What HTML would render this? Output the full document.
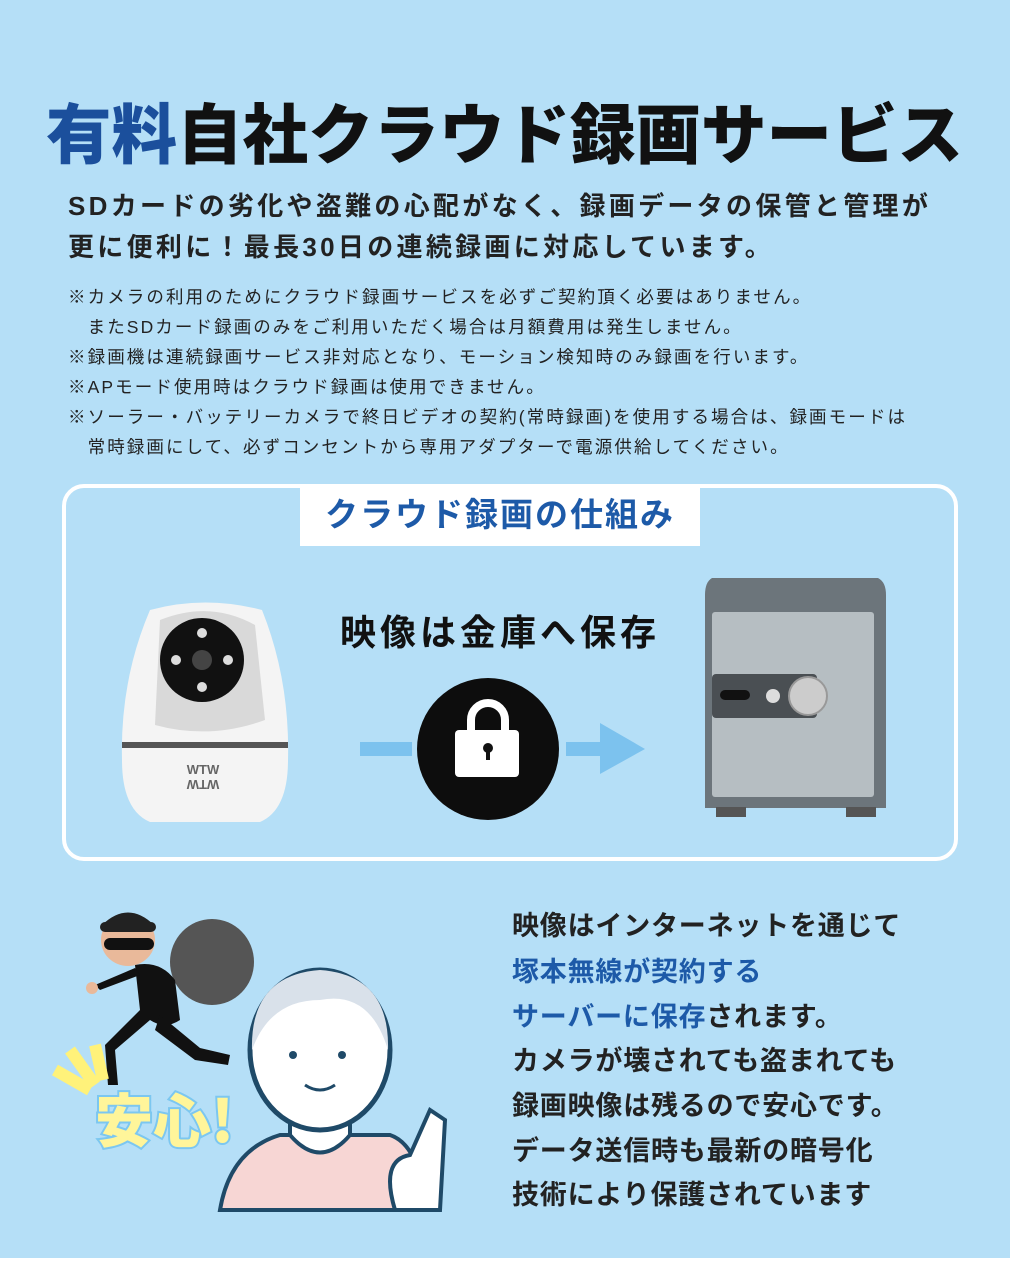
<!DOCTYPE html>
<html><head><meta charset="utf-8"><style>
*{margin:0;padding:0;box-sizing:border-box}
body{width:1010px;height:1266px;background:#fff;font-family:"Liberation Sans","Noto Sans CJK JP",sans-serif;position:relative;overflow:hidden}
.bg{position:absolute;left:0;top:0;width:1010px;height:1258px;background:#b5dff7}
.t{position:absolute;white-space:nowrap}
.title{left:46px;top:92px;font-size:65.5px;font-weight:900;letter-spacing:0;color:#111;line-height:88px}
.sub{left:68px;font-size:26px;font-weight:700;color:#222;letter-spacing:3.3px}
.note{left:68px;font-size:17.5px;color:#222;letter-spacing:2.1px}
.box{position:absolute;left:62px;top:484px;width:896px;height:377px;border:4px solid #fff;border-radius:22px}
.lab{position:absolute;left:300px;top:486px;width:400px;height:60px;background:#fff;color:#1d5aa8;font-size:33px;font-weight:700;text-align:center;line-height:58px;letter-spacing:2px}
.rt{left:512px;font-size:27px;font-weight:700;color:#222;letter-spacing:0.8px}
.b{color:#1d5aa8}
</style></head><body>
<div class="bg"></div>
<div class="t title"><span style="color:#1b4f9c">有料</span>自社クラウド録画サービス</div>
<div class="t sub" style="top:186px">SDカードの劣化や盗難の心配がなく、録画データの保管と管理が</div>
<div class="t sub" style="top:227px">更に便利に！最長30日の連続録画に対応しています。</div>
<div class="t note" style="top:284px">※カメラの利用のためにクラウド録画サービスを必ずご契約頂く必要はありません。</div>
<div class="t note" style="top:314px">　またSDカード録画のみをご利用いただく場合は月額費用は発生しません。</div>
<div class="t note" style="top:344px">※録画機は連続録画サービス非対応となり、モーション検知時のみ録画を行います。</div>
<div class="t note" style="top:374px">※APモード使用時はクラウド録画は使用できません。</div>
<div class="t note" style="top:404px">※ソーラー・バッテリーカメラで終日ビデオの契約(常時録画)を使用する場合は、録画モードは</div>
<div class="t note" style="top:434px">　常時録画にして、必ずコンセントから専用アダプターで電源供給してください。</div>
<div class="box"></div>
<div class="lab">クラウド録画の仕組み</div>
<div class="t" style="left:340px;top:604px;font-size:36px;font-weight:700;color:#111;letter-spacing:4px">映像は金庫へ保存</div>
<svg style="position:absolute;left:0;top:560px" width="1010" height="300">
 <path d="M150 50 Q205 35 262 50 Q290 120 288 200 Q288 250 260 262 L150 262 Q122 250 122 200 Q120 120 150 50Z" fill="#f4f4f4"/>
 <rect x="122" y="182" width="166" height="6" fill="#555"/>
 <path d="M160 60 Q210 40 255 65 L265 160 Q210 180 155 165Z" fill="#d9d9d9"/>
 <circle cx="202" cy="100" r="42" fill="#111"/>
 <circle cx="202" cy="100" r="10" fill="#444"/>
 <circle cx="202" cy="73" r="5" fill="#ddd"/><circle cx="202" cy="127" r="5" fill="#ddd"/>
 <circle cx="176" cy="100" r="5" fill="#ddd"/><circle cx="228" cy="100" r="5" fill="#ddd"/>
 <text x="203" y="214" font-size="13" font-weight="700" fill="#666" text-anchor="middle" font-family="Liberation Sans">WTW</text>
 <text x="203" y="228" font-size="13" font-weight="700" fill="#666" text-anchor="middle" font-family="Liberation Sans" transform="rotate(180 203 224)">WTW</text>
 <rect x="360" y="182" width="52" height="14" fill="#7cc2ee"/>
 <rect x="566" y="182" width="40" height="14" fill="#7cc2ee"/>
 <path d="M600 163 L645 189 L600 214Z" fill="#7cc2ee"/>
 <circle cx="488" cy="189" r="71" fill="#0d0d0d"/>
 <path d="M471 172 v-12 a17 17 0 0 1 34 0 v12" stroke="#fff" stroke-width="8" fill="none"/>
 <rect x="455" y="170" width="64" height="47" rx="4" fill="#fff"/>
 <circle cx="488" cy="188" r="5" fill="#111"/><rect x="486" y="188" width="4" height="12" fill="#111"/>
 <path d="M712 18 L878 18 Q886 22 886 35 L886 248 L705 248 L705 35 Q705 22 712 18Z" fill="#6c757b"/>
 <rect x="712" y="52" width="162" height="185" rx="3" fill="#b6bec2"/>
 <rect x="712" y="114" width="105" height="44" rx="4" fill="#4a4f53"/>
 <rect x="720" y="130" width="30" height="10" rx="5" fill="#111"/>
 <circle cx="773" cy="136" r="7" fill="#ddd"/>
 <circle cx="808" cy="136" r="19" fill="#ccc" stroke="#999" stroke-width="2"/>
 <rect x="716" y="247" width="30" height="10" fill="#555"/><rect x="846" y="247" width="30" height="10" fill="#555"/>
</svg>
<svg style="position:absolute;left:0;top:880px" width="500" height="380">
 <ellipse cx="212" cy="82" rx="42" ry="43" fill="#555"/>
 <ellipse cx="128" cy="60" rx="27" ry="26" fill="#e9b99a"/>
 <path d="M102 45 Q128 20 154 45Z" fill="#222"/>
 <rect x="100" y="42" width="56" height="10" rx="5" fill="#222"/>
 <rect x="104" y="58" width="50" height="12" rx="6" fill="#111"/>
 <path d="M135 85 Q160 80 175 100 L180 140 Q165 150 150 140 L115 170 L118 205 L108 205 L105 165 L140 130 Z" fill="#111"/>
 <path d="M160 135 L200 168 L230 175 L228 185 L195 180 L155 150Z" fill="#111"/>
 <path d="M140 95 L100 110 L95 105 L135 88Z" fill="#111"/>
 <circle cx="92" cy="108" r="6" fill="#e9b99a"/>
 <path d="M55 190 L90 210 M70 170 L95 205 M95 165 L103 200" stroke="#fff27a" stroke-width="12"/>
 <text x="95" y="262" font-size="58" font-weight="900" fill="#fff59a" stroke="#7cc7f0" stroke-width="4" paint-order="stroke" font-family="Noto Sans CJK JP,sans-serif">安心!</text>
 <path d="M220 330 Q230 270 280 255 L390 255 Q420 265 425 330Z" fill="#f7d6d4" stroke="#1f4a68" stroke-width="4"/>
 <path d="M290 225 L290 255 Q320 290 350 255 L350 225Z" fill="#fff" stroke="#1f4a68" stroke-width="4"/>
 <ellipse cx="320" cy="170" rx="70" ry="80" fill="#fff" stroke="#1f4a68" stroke-width="5"/>
 <path d="M252 170 Q250 95 320 90 Q390 95 388 170 Q370 110 320 120 Q270 120 252 170Z" fill="#d9e1ea"/>
 <circle cx="293" cy="175" r="4" fill="#1f4a68"/><circle cx="342" cy="175" r="4" fill="#1f4a68"/>
 <path d="M305 205 Q320 215 335 205" stroke="#1f4a68" stroke-width="3" fill="none"/>
 <path d="M395 330 Q380 280 410 275 L430 230 L445 240 L440 330Z" fill="#fff" stroke="#1f4a68" stroke-width="4"/>
</svg>
<div class="t rt" style="top:904px">映像はインターネットを通じて</div>
<div class="t rt b" style="top:950px">塚本無線が契約する</div>
<div class="t rt" style="top:995px"><span class="b">サーバーに保存</span>されます。</div>
<div class="t rt" style="top:1039px">カメラが壊されても盗まれても</div>
<div class="t rt" style="top:1084px">録画映像は残るので安心です。</div>
<div class="t rt" style="top:1129px">データ送信時も最新の暗号化</div>
<div class="t rt" style="top:1173px">技術により保護されています</div>
</body></html>
